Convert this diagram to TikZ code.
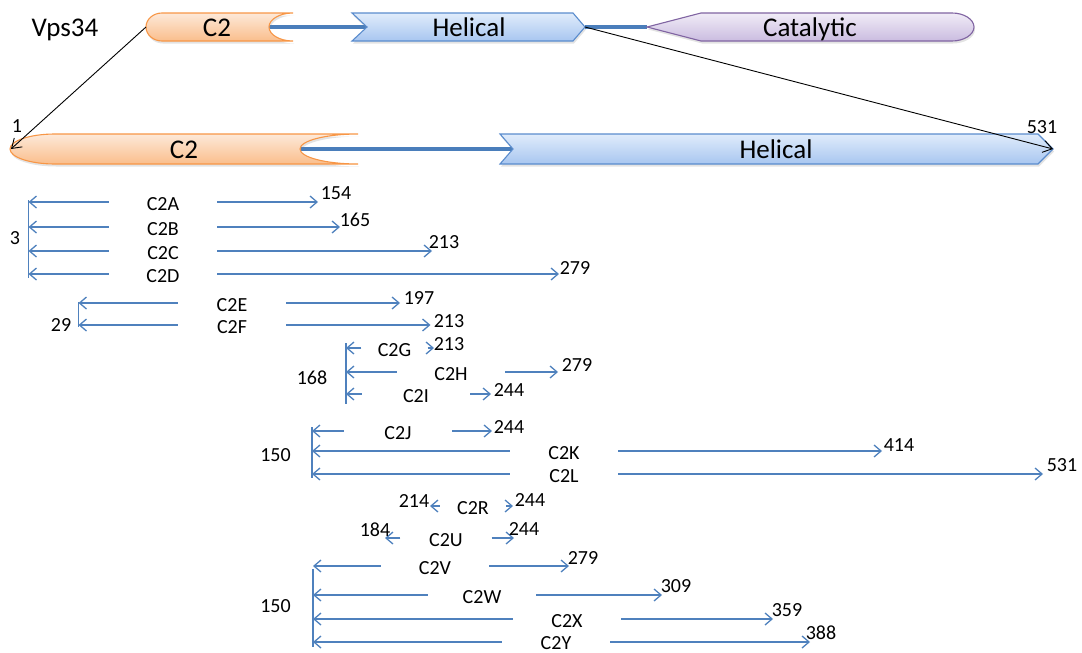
\documentclass[tikz,border=0pt]{standalone}
\usepackage{fontspec}
\setmainfont{Carlito}
\usetikzlibrary{arrows.meta,shadows}

\definecolor{fragblue}{RGB}{79,129,189}
\definecolor{linkblue}{RGB}{74,126,187}
\definecolor{c2edge}{RGB}{247,150,70}
\definecolor{c2top}{RGB}{253,233,217}
\definecolor{c2bot}{RGB}{250,190,140}
\definecolor{heledge}{RGB}{90,140,205}
\definecolor{heltop}{RGB}{224,236,251}
\definecolor{helbot}{RGB}{168,198,240}
\definecolor{catedge}{RGB}{128,100,162}
\definecolor{cattop}{RGB}{241,236,247}
\definecolor{catbot}{RGB}{202,188,224}

% one construct: label box with arrows out to both ends
\newcommand\fragrow[6][]{%
  \node[fraglabel,#1] (#2) at (#3,#4) {#2};
  \coordinate (#2-from) at (#5,#4);
  \coordinate (#2-to) at (#6,#4);
  \draw[frag] (#2.west) -- (#2-from);
  \draw[frag] (#2.east) -- (#2-to);
}

\begin{document}
\begin{tikzpicture}[x=1pt,y=-1pt,
  fraglabel/.style={inner sep=0pt, minimum width=108pt, text height=16pt, text depth=0pt,
    font=\fontsize{20}{20}\selectfont},
  num/.style={inner sep=0pt, text height=12.6pt, text depth=0pt, font=\fontsize{20}{20}\selectfont},
  domlabel/.style={inner sep=0pt, text height=17pt, text depth=0pt, font=\fontsize{27}{27}\selectfont},
  frag/.style={draw=fragblue, line width=1.3pt, -{Straight Barb[length=7pt,width=12pt]}},
  bracket/.style={draw=fragblue, line width=1.3pt},
  linker/.style={draw=linkblue, line width=4pt},
  zoomline/.style={draw=black, line width=0.9pt, -{Straight Barb[length=9pt,width=12pt]}},
  softshadow/.style={drop shadow={opacity=0.22, shadow xshift=1pt, shadow yshift=-2.5pt}},
  c2dom/.style={draw=c2edge, line width=1.1pt, top color=c2top, bottom color=c2bot, softshadow},
  heldom/.style={draw=heledge, line width=1.1pt, top color=heltop, bottom color=helbot, softshadow},
  catdom/.style={draw=catedge, line width=1.1pt, top color=cattop, bottom color=catbot, softshadow}]
\useasboundingbox (0,0) rectangle (1082,653);

% ---------- full-length Vps34 ----------
\coordinate (c2L) at (146,27);
\coordinate (c2N) at (269,27);
\coordinate (helN) at (367,27);
\coordinate (helP) at (585,27);
\coordinate (catP) at (647,27);

\draw[linker] (c2N) -- (helN);
\draw[linker] (helP) -- (catP);

\path[c2dom] (162,13) -- (293,13)
  .. controls (279.8,13) and (269,19.3) .. (c2N)
  .. controls (269,34.7) and (279.8,41) .. (293,41) -- (162,41)
  .. controls (153.2,41) and (146,34.7) .. (c2L)
  .. controls (146,19.3) and (153.2,13) .. (162,13) -- cycle;
\path[heldom] (352,13) -- (573,13) -- (helP) -- (573,41) -- (352,41) -- (helN) -- cycle;
\path[catdom] (catP) -- (701,13) -- (952,13)
  .. controls (964,13) and (974,19.3) .. (974,27)
  .. controls (974,34.7) and (964,41) .. (952,41) -- (701,41) -- cycle;

\node[domlabel] (vps) at (65,28) {Vps34};
\node[domlabel] (c2t) at (217,28) {C2};
\node[domlabel] (helt) at (469,28) {Helical};
\node[domlabel] (catt) at (810,28) {Catalytic};

% ---------- enlarged C2-helical region ----------
\coordinate (bL) at (11,149);
\coordinate (bN) at (300,149);
\coordinate (bhN) at (513,149);
\coordinate (bP) at (1053,149);

\draw[linker] (bN) -- (bhN);

\path[c2dom] (55,134) -- (358,134)
  .. controls (326,134) and (300,140.7) .. (bN)
  .. controls (300,157.3) and (326,164) .. (358,164) -- (55,164)
  .. controls (30.2,164) and (10,157.3) .. (10,149)
  .. controls (10,140.7) and (30.2,134) .. (55,134) -- cycle;
\path[heldom] (500,134) -- (1038,134) -- (bP) -- (1038,164) -- (500,164) -- (bhN) -- cycle;

\node[domlabel] (c2b) at (184,149.5) {C2};
\node[domlabel] (helb) at (776,149.5) {Helical};
\node[num] (res1) at (17,126) {1};
\node[num] (res531) at (1042,127.5) {531};

\draw[zoomline] (c2L) -- (bL);
\draw[zoomline] (helP) -- (bP);

% ---------- constructs ----------
% start 3
\coordinate (g3a) at (28.5,200);
\coordinate (g3b) at (28.5,278);
\draw[bracket] (g3a) -- (g3b);
\node[num] (s3) at (15,238) {3};
\fragrow{C2A}{163}{202}{28.5}{318}
\fragrow{C2B}{163}{227}{28.5}{340}
\fragrow{C2C}{163}{251}{28.5}{432}
\fragrow{C2D}{163}{274}{28.5}{559}
\node[num] (e154) at (336,193.5) {154};
\node[num] (e165) at (355,220) {165};
\node[num] (e213a) at (444,242) {213};
\node[num] (e279a) at (575,268) {279};

% start 29
\coordinate (g29a) at (78.5,302);
\coordinate (g29b) at (78.5,327);
\draw[bracket] (g29a) -- (g29b);
\node[num] (s29) at (61,325) {29};
\fragrow{C2E}{232}{303}{78.5}{400}
\fragrow{C2F}{232}{325}{78.5}{430.5}
\node[num] (e197) at (419,298.5) {197};
\node[num] (e213b) at (449,321) {213};

% start 168
\coordinate (g168a) at (346,343);
\coordinate (g168b) at (346,404);
\draw[bracket] (g168a) -- (g168b);
\node[num] (s168) at (312,378) {168};
\fragrow[minimum width=66pt]{C2G}{394.5}{348}{346}{434}
\fragrow{C2H}{451}{372}{346}{558}
\fragrow{C2I}{416}{394}{346}{491}
\node[num] (e213c) at (449,344) {213};
\node[num] (e279b) at (577,365) {279};
\node[num] (e244a) at (509,390) {244};

% start 150
\coordinate (g150a) at (312,427);
\coordinate (g150b) at (312,478);
\draw[bracket] (g150a) -- (g150b);
\node[num] (s150a) at (275.5,455) {150};
\fragrow{C2J}{398}{431}{312}{492}
\fragrow{C2K}{564}{451}{312}{882}
\fragrow{C2L}{564}{474}{312}{1043}
\node[num] (e244b) at (509,427) {244};
\node[num] (e414) at (899,445) {414};
\node[num] (e531) at (1062,465.5) {531};

% internal starts
\fragrow[minimum width=66pt]{C2R}{473}{506}{430}{513}
\node[num] (s214) at (414,501) {214};
\node[num] (e244c) at (530,500) {244};
\fragrow[minimum width=91pt]{C2U}{446}{538}{385}{514}
\node[num] (s184) at (375,530) {184};
\node[num] (e244d) at (524,529.5) {244};

% start 150, second set
\coordinate (g150c) at (313,569);
\coordinate (g150d) at (313,647);
\draw[bracket] (g150c) -- (g150d);
\node[num] (s150b) at (275.5,606) {150};
\fragrow{C2V}{435}{566}{313}{569}
\fragrow{C2W}{482}{595}{313}{662}
\fragrow{C2X}{567}{619}{313}{773}
\fragrow[text height=14pt]{C2Y}{556}{642}{313}{810}
\node[num] (e279c) at (583,558) {279};
\node[num] (e309) at (676,586) {309};
\node[num] (e359) at (787,610) {359};
\node[num] (e388) at (821,633) {388};
\end{tikzpicture}
\end{document}
